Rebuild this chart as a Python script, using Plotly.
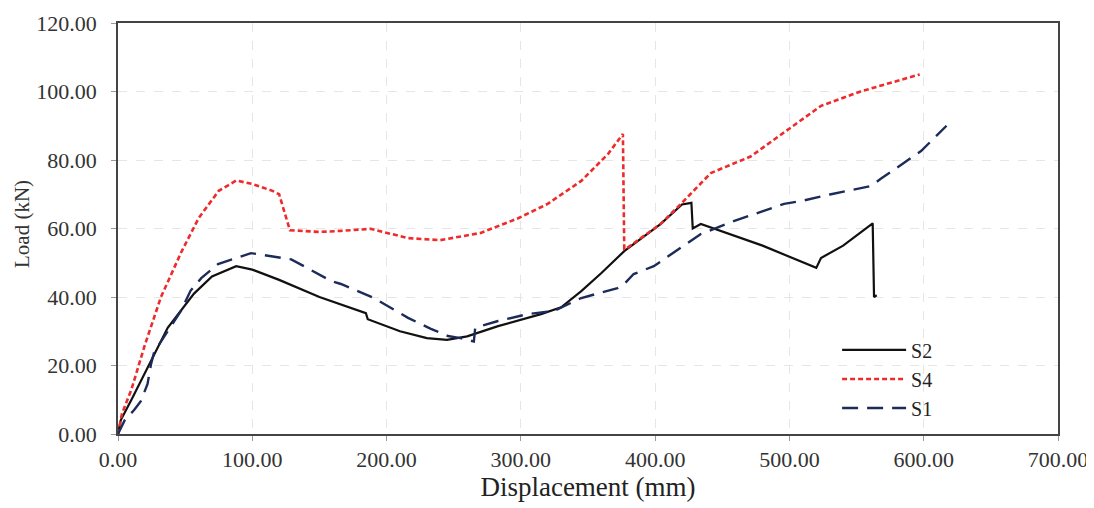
import plotly.graph_objects as go

s2_x = [0, 2, 10, 24.6, 37, 56.6, 70, 88, 100, 120, 150, 184.6, 186, 210, 230, 245, 260, 283, 315, 330, 345, 360, 377, 404, 420, 427, 428, 434, 480, 520, 523.5, 540, 562, 563, 565]
s2_y = [0, 4, 10, 21.3, 31, 41, 46, 49, 48, 45, 40, 35.3, 33.5, 30, 28, 27.5, 28.5, 31.5, 35, 37, 41.7, 47, 53.4, 61.3, 67, 67.5, 60, 61.3, 55, 48.5, 51.4, 55, 61.5, 40, 40.5]

s4_x = [0, 3, 10, 20, 32, 47, 60, 75, 88, 100, 115, 120, 128, 150, 166, 188, 216, 240, 270, 298, 320, 345, 365, 376, 377, 378, 404, 420, 441.5, 471, 523.5, 553, 597]
s4_y = [0, 6, 13, 26, 40, 53, 63, 71, 74, 73, 71, 70, 59.5, 59, 59.3, 59.9, 57.2, 56.6, 58.7, 63, 67.2, 73.9, 81.8, 87.6, 54, 54, 61.3, 67.5, 76.2, 81, 95.8, 100, 105]

s1_x = [0, 5, 12, 17, 22, 24.6, 27, 37, 47, 54, 62, 74.5, 99, 129, 158.6, 166, 190.6, 216, 233, 245.7, 255, 265, 266, 283, 305, 325, 345, 372, 377, 384, 399, 434, 459, 496, 508.6, 531, 560.7, 568, 598, 617]
s1_y = [0, 4, 7, 9.6, 14.6, 20.4, 24, 30, 36, 41.8, 45.5, 49.6, 52.8, 51, 44.7, 43.8, 39.7, 33.9, 30.7, 28.6, 28, 27, 31, 33, 35, 36, 39.7, 42.6, 43.8, 46.7, 49, 58.4, 62.2, 67.2, 68, 70, 72.4, 74.5, 82.6, 90]

x_ticks = [0, 100, 200, 300, 400, 500, 600, 700]
y_ticks = [0, 20, 40, 60, 80, 100, 120]

FONT = "Liberation Serif"

fig = go.Figure()
fig.add_trace(go.Scatter(x=s2_x, y=s2_y, mode="lines", name="S2",
                         line=dict(color="#111111", width=2.2)))
fig.add_trace(go.Scatter(x=s4_x, y=s4_y, mode="lines", name="S4",
                         line=dict(color="#ee2a2a", width=2.6, dash="5px,3px")))
fig.add_trace(go.Scatter(x=s1_x, y=s1_y, mode="lines", name="S1",
                         line=dict(color="#1d2b5a", width=2.4, dash="16px,9px")))

axis_common = dict(
    showline=True, linecolor="#444444", linewidth=1.5, mirror=True,
    ticks="outside", ticklen=5, tickcolor="#999999",
    showgrid=True, gridcolor="#e6e6e6", griddash="dash", gridwidth=1,
    zeroline=False, tickformat=".2f", automargin=False,
    tickfont=dict(family=FONT, size=22, color="#333333"),
)

fig.update_xaxes(range=[0, 700], tickvals=x_ticks, **axis_common,
                 title=dict(text="Displacement (mm)", font=dict(family=FONT, size=27, color="#222222"), standoff=2))
fig.update_yaxes(range=[0, 120], tickvals=y_ticks, ticklabelstandoff=10, **axis_common)

fig.add_annotation(text="Load (kN)", xref="paper", yref="paper",
                   x=(21 - 117) / 940, y=(433 - 223) / 411, xanchor="center", yanchor="middle",
                   textangle=-90, showarrow=False,
                   font=dict(family=FONT, size=21, color="#333333"))

fig.update_layout(
    width=1087, height=501,
    margin=dict(l=110, r=37, t=15, b=75),
    paper_bgcolor="white", plot_bgcolor="white",
    font=dict(family=FONT, color="#222222"),
    legend=dict(x=0.765, y=0.252, xanchor="left", yanchor="top",
                font=dict(family=FONT, size=20, color="#222222"),
                bgcolor="rgba(0,0,0,0)", itemwidth=64, tracegroupgap=1),
    showlegend=True,
)

fig.write_html("out.html")
